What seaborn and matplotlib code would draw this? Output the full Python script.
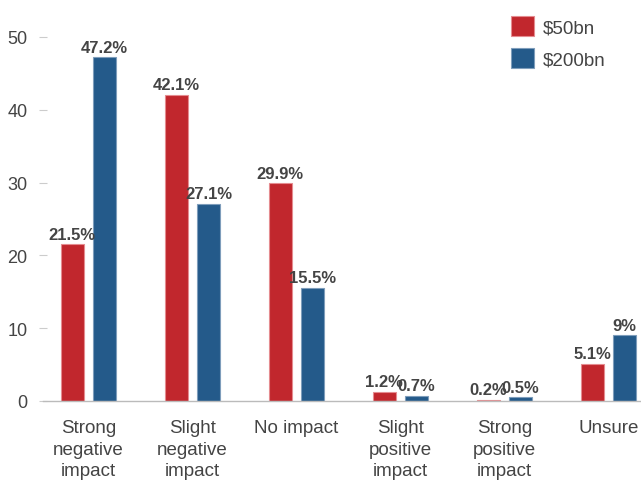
import matplotlib
matplotlib.use("Agg")
import matplotlib.pyplot as plt
import matplotlib.patches as mpatches
import seaborn as sns
import pandas as pd

categories = ["Strong\nnegative\nimpact", "Slight\nnegative\nimpact", "No impact",
              "Slight\npositive\nimpact", "Strong\npositive\nimpact", "Unsure"]
series_names = ["$50bn", "$200bn"]
values_50bn = [21.5, 42.1, 29.9, 1.2, 0.2, 5.1]
values_200bn = [47.2, 27.1, 15.5, 0.7, 0.5, 9.0]
y_ticks = [0, 10, 20, 30, 40, 50]
colors = ["#C1272D", "#245A8A"]
edge_colors = ["#E58C90", "#7E9DBB"]

sns.set_theme(style="white")
plt.rcParams['font.family'] = ['Liberation Sans', 'DejaVu Sans']
plt.rcParams['text.parse_math'] = False

df = pd.DataFrame({
    "category": categories * 2,
    "series": [series_names[0]] * 6 + [series_names[1]] * 6,
    "value": values_50bn + values_200bn,
})

fig = plt.figure(figsize=(6.41, 4.81), dpi=100)
ax = fig.add_axes([43 / 641, (481 - 402) / 481, 1 - 43 / 641, (402 - 38) / 481])

sns.barplot(data=df, x="category", y="value", hue="series", order=categories,
            hue_order=series_names, palette=colors, width=0.625, gap=0.3,
            saturation=1, errorbar=None, ax=ax, legend=False)

for container, ec in zip(ax.containers, edge_colors):
    for bar in container:
        bar.set_edgecolor(ec)
        bar.set_linewidth(0.8)

ax.set_xlim((43 - 88.5) / 104, (641 - 88.5) / 104)
ax.set_ylim(0, 50)
ax.set_yticks(y_ticks)
ax.set_xlabel("")
ax.set_ylabel("")
for s in ["top", "right", "left"]:
    ax.spines[s].set_visible(False)
ax.spines["bottom"].set_color("#bbbbbb")
ax.spines["bottom"].set_linewidth(1.0)
ax.tick_params(axis="y", which="both", left=True, direction="inout", length=6, width=0.8,
               color="#cccccc", labelsize=13, labelcolor="#444444", pad=8)
ax.tick_params(axis="x", bottom=False, labelsize=13.5, labelcolor="#444444", pad=7)
for lbl in ax.get_xticklabels():
    lbl.set_linespacing(1.36)
    lbl.set_verticalalignment("top")

for container, vals in zip(ax.containers, [values_50bn, values_200bn]):
    ax.bar_label(container, labels=[f"{v:g}%" for v in vals], padding=2,
                 fontsize=12, fontweight="bold", color="#444444", clip_on=False)

handles = [mpatches.Patch(facecolor=c, edgecolor=ec, linewidth=0.8, label=n)
           for c, ec, n in zip(colors, edge_colors, series_names)]
fig.legend(handles=handles, loc="upper left", bbox_to_anchor=(494 / 641, 1 - 0 / 481),
           frameon=False, fontsize=13.5, labelcolor="#444444", handlelength=1.25,
           handleheight=1.25, handletextpad=0.45, labelspacing=0.65)

fig.savefig("out.png", dpi=100)
